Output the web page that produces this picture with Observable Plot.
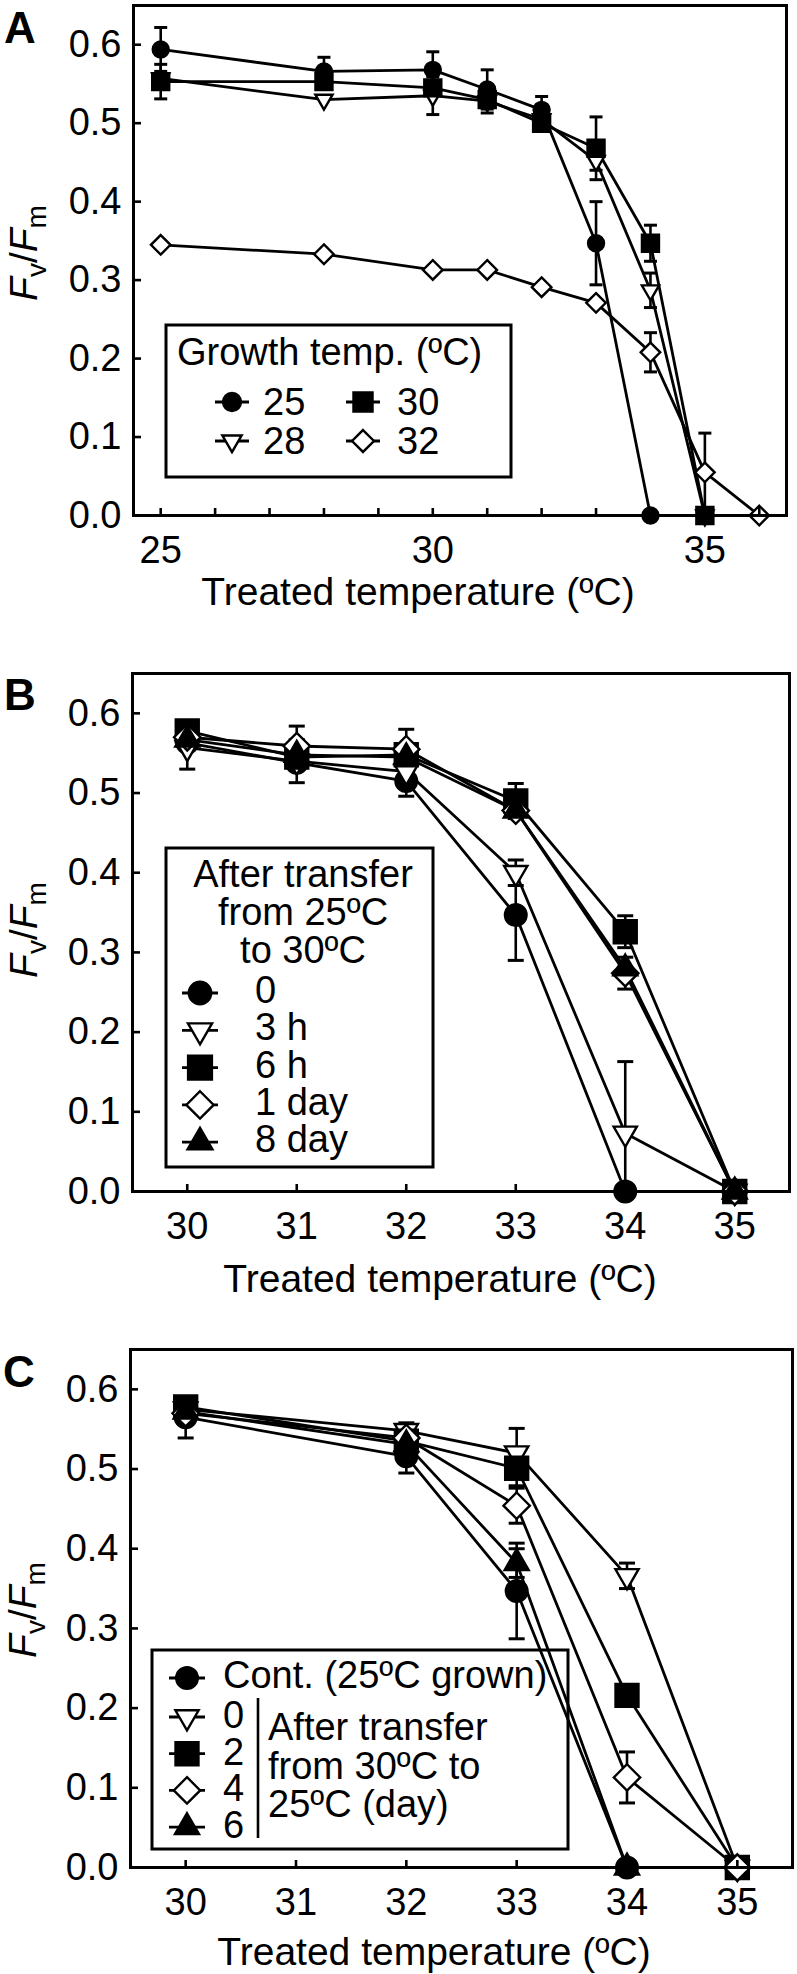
<!DOCTYPE html>
<html><head><meta charset="utf-8">
<script src="https://cdn.jsdelivr.net/npm/d3@7"></script>
<script src="https://cdn.jsdelivr.net/npm/@observablehq/plot@0.6"></script>
<style>
body{margin:0;background:#fff;}
#root{width:797px;}
svg{display:block;}
</style></head><body><div id="root"></div>
<script>
// ---------------- DATA ----------------
const yTicks = [0, 0.1, 0.2, 0.3, 0.4, 0.5, 0.6];

// Panel A: Growth temperature series
const A_xTicks = [25, 26, 27, 28, 29, 30, 31, 32, 33, 34, 35, 36];
const A_xLabels = [25, 30, 35];
const A25_x = [25, 28, 30, 31, 32, 33, 34];
const A25_y = [0.594, 0.566, 0.568, 0.543, 0.517, 0.347, 0];
const A25_e = [0.028, 0.018, 0.023, 0.025, 0.017, 0.053, 0];
const A28_x = [25, 28, 30, 31, 32, 33, 34, 35];
const A28_y = [0.557, 0.530, 0.535, 0.528, 0.505, 0.452, 0.287, 0];
const A28_e = [0, 0, 0.024, 0, 0, 0.012, 0.022, 0];
const A30_x = [25, 28, 30, 31, 32, 33, 34, 35];
const A30_y = [0.553, 0.553, 0.545, 0.530, 0.500, 0.468, 0.347, 0];
const A30_e = [0.022, 0, 0, 0.017, 0.009, 0.040, 0.023, 0];
const A32_x = [25, 28, 30, 31, 32, 33, 34, 35, 36];
const A32_y = [0.345, 0.333, 0.313, 0.313, 0.291, 0.271, 0.208, 0.055, 0];
const A32_e = [0, 0, 0, 0, 0, 0, 0.025, 0.050, 0];
const A_legendTitle = "Growth temp. (ºC)";
const A_legendLabels = ["25", "28", "30", "32"];

// Panel B: after transfer from 25 to 30 ºC
const B_xTicks = [30, 31, 32, 33, 34, 35];
const B0_x = [30, 31, 32, 33, 34];
const B0_y = [0.563, 0.538, 0.515, 0.347, 0];
const B0_e = [0, 0, 0.019, 0.057, 0];
const B3h_x = [30, 31, 32, 33, 34, 35];
const B3h_y = [0.557, 0.540, 0.527, 0.400, 0.073, 0];
const B3h_e = [0.027, 0.027, 0, 0.016, 0.090, 0];
const B6h_x = [30, 31, 32, 33, 34, 35];
const B6h_y = [0.578, 0.545, 0.548, 0.490, 0.326, 0];
const B6h_e = [0, 0, 0, 0.022, 0.020, 0];
const B1d_x = [30, 31, 32, 33, 34, 35];
const B1d_y = [0.570, 0.559, 0.555, 0.478, 0.274, 0];
const B1d_e = [0, 0.025, 0.025, 0, 0.020, 0];
const B8d_x = [30, 31, 32, 33, 34, 35];
const B8d_y = [0.567, 0.548, 0.545, 0.478, 0.280, 0];
const B8d_e = [0, 0, 0, 0, 0, 0];
const B_legendTitle = ["After transfer", "from 25ºC", "to 30ºC"];
const B_legendLabels = ["0", "3 h", "6 h", "1 day", "8 day"];

// Panel C: after transfer from 30 to 25 ºC
const C_xTicks = [30, 31, 32, 33, 34, 35];
const Cc_x = [30, 32, 33, 34];
const Cc_y = [0.565, 0.516, 0.347, 0];
const Cc_e = [0.026, 0.021, 0.060, 0];
const C0_x = [30, 32, 33, 34, 35];
const C0_y = [0.575, 0.548, 0.520, 0.366, 0];
const C0_e = [0, 0.010, 0.031, 0.016, 0];
const C2_x = [30, 32, 33, 34, 35];
const C2_y = [0.578, 0.535, 0.501, 0.216, 0];
const C2_e = [0, 0, 0.022, 0, 0];
const C4_x = [30, 32, 33, 34, 35];
const C4_y = [0.570, 0.539, 0.454, 0.113, 0];
const C4_e = [0, 0, 0.022, 0.032, 0];
const C6_x = [30, 32, 33, 34];
const C6_y = [0.572, 0.531, 0.382, 0];
const C6_e = [0, 0, 0.018, 0];
const C_legendCont = "Cont. (25ºC grown)";
const C_legendLabels = ["0", "2", "4", "6"];
const C_legendNote = ["After transfer", "from 30ºC to", "25ºC (day)"];

const xTitle = "Treated temperature (ºC)";

// ---------------- STYLE ----------------
const FONT = "'Liberation Sans', Arial, Helvetica, sans-serif";
const FS = 38;
const SYM = {
  circle:  {symbol: "circle",   fill: "black", r: 8},
  triDown: {symbol: "triangle", fill: "white", r: 6.4, rotate: 180},
  square:  {symbol: "square",   fill: "black", r: 9.6},
  diamond: {symbol: "diamond2", fill: "white", r: 8.8},
  triUp:   {symbol: "triangle", fill: "black", r: 6.6}
};
const D3SYM = {circle: d3.symbolCircle, triangle: d3.symbolTriangle, square: d3.symbolSquare, diamond2: d3.symbolDiamond2};

function makePanel(cfg) {
  const rows = [], errs = [];
  cfg.series.forEach(s => {
    s.xs.forEach((x, i) => {
      rows.push({series: s.name, x, y: s.ys[i]});
      if (s.es[i] > 0) errs.push({x, lo: Math.max(0, s.ys[i] - s.es[i]), hi: s.ys[i] + s.es[i], clipped: s.ys[i] - s.es[i] < 0});
    });
  });
  const cw = cfg.capW / 2;
  const cap = {draw(ctx) { ctx.moveTo(-cw, 0); ctx.lineTo(cw, 0); }};
  const k = cfg.k;
  const marks = [
    Plot.ruleX(errs, {x: "x", y1: "lo", y2: "hi", stroke: "black", strokeWidth: 2.6}),
    Plot.dot(errs, {x: "x", y: "hi", symbol: cap, stroke: "black", strokeWidth: 3, fill: "none"}),
    Plot.dot(errs.filter(d => !d.clipped), {x: "x", y: "lo", symbol: cap, stroke: "black", strokeWidth: 3, fill: "none"}),
    ...cfg.series.map(s => Plot.line(rows.filter(r => r.series === s.name), {x: "x", y: "y", stroke: "black", strokeWidth: 2.8})),
    ...cfg.series.map(s => {
      const m = SYM[s.sym];
      return Plot.dot(rows.filter(r => r.series === s.name), {x: "x", y: "y", symbol: m.symbol, rotate: m.rotate || 0, r: m.r * k, fill: m.fill, stroke: "black", strokeWidth: 2.4});
    }),
    Plot.frame({stroke: "black", strokeWidth: 3}),
    Plot.axisY({ticks: yTicks, tickSize: 0, tickPadding: 12, tickFormat: d3.format(".1f"), label: null}),
    Plot.axisY({ticks: yTicks, tickSize: -8, fill: "none", label: null, strokeWidth: 2.6}),
    Plot.axisX({ticks: cfg.xLabels, tickSize: 0, tickPadding: 21, tickFormat: d3.format("d"), label: null}),
    Plot.axisX({ticks: cfg.xTicks, tickSize: -7, fill: "none", label: null, strokeWidth: 2.6})
  ];
  const svg = Plot.plot({
    width: 797, height: cfg.height,
    marginTop: cfg.mt, marginBottom: cfg.mb, marginLeft: cfg.ml, marginRight: cfg.mr,
    x: {domain: cfg.xDomain},
    y: {domain: [0, 0.65]},
    style: {fontFamily: FONT, fontSize: FS + "px", color: "black", background: "white", overflow: "visible"},
    marks
  });
  const g = d3.select(svg).append("g").attr("font-family", FONT).attr("fill", "black").attr("text-anchor", "start");
  // panel letter
  g.append("text").attr("x", cfg.letterX).attr("y", cfg.letterY).attr("text-anchor", "start").attr("font-size", 44).attr("font-weight", "bold").text(cfg.letter);
  // y label Fv/Fm
  const yl = g.append("text").attr("transform", `translate(${cfg.ylX},${cfg.ylY}) rotate(-90)`).attr("text-anchor", "middle").attr("font-size", 39);
  yl.append("tspan").attr("font-style", "italic").text("F");
  yl.append("tspan").attr("dy", 9).attr("font-size", 28).text("v");
  yl.append("tspan").attr("dy", -9).text("/");
  yl.append("tspan").attr("font-style", "italic").text("F");
  yl.append("tspan").attr("dy", 9).attr("font-size", 28).text("m");
  // x title
  g.append("text").attr("x", cfg.xtX).attr("y", cfg.xtY).attr("text-anchor", "middle").attr("font-size", 39).text(xTitle);
  return {svg, g};
}

function legendSym(g, sym, cx, cy, k, half) {
  g.append("line").attr("x1", cx - half).attr("x2", cx + half).attr("y1", cy).attr("y2", cy).attr("stroke", "black").attr("stroke-width", 2.8);
  const m = SYM[sym];
  g.append("path").attr("d", d3.symbol(D3SYM[m.symbol], Math.PI * (m.r * k) ** 2)())
    .attr("transform", `translate(${cx},${cy}) rotate(${m.rotate || 0})`)
    .attr("fill", m.fill).attr("stroke", "black").attr("stroke-width", 2.4);
}
function txt(g, x, y, s, anchor = "start") {
  g.append("text").attr("x", x).attr("y", y).attr("font-size", FS).attr("text-anchor", anchor).text(s);
}
function box(g, x1, y1, x2, y2) {
  g.append("rect").attr("x", x1).attr("y", y1).attr("width", x2 - x1).attr("height", y2 - y1).attr("fill", "none").attr("stroke", "black").attr("stroke-width", 3);
}

const root = document.getElementById("root");

// ---- Panel A ----
{
  const {svg, g} = makePanel({
    height: 640, mt: 5, mb: 125, ml: 133, mr: 11, xDomain: [24.5, 36.5], xTicks: A_xTicks, xLabels: A_xLabels,
    k: 1, capW: 13, letter: "A", letterX: 4, letterY: 43, ylX: 37, ylY: 253, xtX: 418, xtY: 605,
    series: [
      {name: "28", xs: A28_x, ys: A28_y, es: A28_e, sym: "triDown"},
      {name: "25", xs: A25_x, ys: A25_y, es: A25_e, sym: "circle"},
      {name: "30", xs: A30_x, ys: A30_y, es: A30_e, sym: "square"},
      {name: "32", xs: A32_x, ys: A32_y, es: A32_e, sym: "diamond"}
    ]
  });
  box(g, 166, 325, 511, 477);
  txt(g, 177, 365, A_legendTitle);
  const syms = ["circle", "triDown", "square", "diamond"];
  const pos = [[232, 402, 263], [232, 441, 263], [363, 402, 397], [363, 441, 397]];
  syms.forEach((s, i) => { legendSym(g, s, pos[i][0], pos[i][1], 1.12, 17); txt(g, pos[i][2], pos[i][1] + 13, A_legendLabels[i]); });
  root.appendChild(svg);
}

// ---- Panel B ----
{
  const {svg, g} = makePanel({
    height: 660, mt: 33, mb: 109, ml: 132, mr: 8, xDomain: [29.5, 35.5], xTicks: B_xTicks, xLabels: B_xTicks,
    k: 1.35, capW: 16, letter: "B", letterX: 4, letterY: 70, ylX: 37, ylY: 290, xtX: 440, xtY: 652,
    series: [
      {name: "0", xs: B0_x, ys: B0_y, es: B0_e, sym: "circle"},
      {name: "3h", xs: B3h_x, ys: B3h_y, es: B3h_e, sym: "triDown"},
      {name: "6h", xs: B6h_x, ys: B6h_y, es: B6h_e, sym: "square"},
      {name: "1d", xs: B1d_x, ys: B1d_y, es: B1d_e, sym: "diamond"},
      {name: "8d", xs: B8d_x, ys: B8d_y, es: B8d_e, sym: "triUp"}
    ]
  });
  box(g, 166, 208, 433, 527);
  B_legendTitle.forEach((s, i) => txt(g, 303, 247 + i * 38, s, "middle"));
  const syms = ["circle", "triDown", "square", "diamond", "triUp"];
  syms.forEach((s, i) => { const cy = 353 + i * 37.3; legendSym(g, s, 200, cy, 1.4, 18); txt(g, 255, cy + 10, B_legendLabels[i]); });
  root.appendChild(svg);
}

// ---- Panel C ----
{
  const {svg, g} = makePanel({
    height: 674, mt: 49, mb: 107, ml: 130, mr: 5, xDomain: [29.5, 35.5], xTicks: C_xTicks, xLabels: C_xTicks,
    k: 1.35, capW: 16, letter: "C", letterX: 3, letterY: 87, ylX: 36, ylY: 310, xtX: 434, xtY: 665,
    series: [
      {name: "cont", xs: Cc_x, ys: Cc_y, es: Cc_e, sym: "circle"},
      {name: "0", xs: C0_x, ys: C0_y, es: C0_e, sym: "triDown"},
      {name: "2", xs: C2_x, ys: C2_y, es: C2_e, sym: "square"},
      {name: "4", xs: C4_x, ys: C4_y, es: C4_e, sym: "diamond"},
      {name: "6", xs: C6_x, ys: C6_y, es: C6_e, sym: "triUp"}
    ]
  });
  box(g, 152, 350, 568, 549);
  legendSym(g, "circle", 187, 378, 1.35, 18);
  txt(g, 223, 388, C_legendCont);
  const syms = ["triDown", "square", "diamond", "triUp"];
  syms.forEach((s, i) => { const cy = 417 + i * 36.7; legendSym(g, s, 187, cy, 1.35, 18); txt(g, 223, cy + 11, C_legendLabels[i]); });
  g.append("line").attr("x1", 258).attr("x2", 258).attr("y1", 398).attr("y2", 538).attr("stroke", "black").attr("stroke-width", 2.6);
  C_legendNote.forEach((s, i) => txt(g, 268, 440 + i * 38.5, s));
  root.appendChild(svg);
}
</script>
</body></html>
